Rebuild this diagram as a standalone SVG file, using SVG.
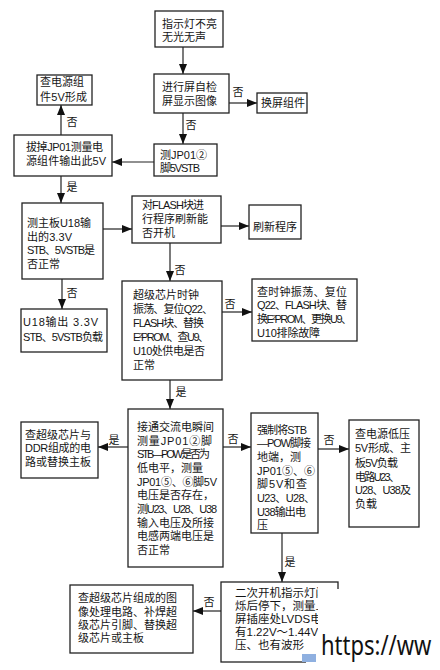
<svg xmlns="http://www.w3.org/2000/svg" width="440" height="670" viewBox="0 0 440 670">
<style>
.b{fill:#fff;stroke:#222;stroke-width:1.3}
.t{font-family:"Liberation Sans","Noto Sans CJK SC",sans-serif;font-size:11px;fill:#151515}
.l{font-family:"Liberation Sans","Noto Sans CJK SC",sans-serif;font-size:11px;fill:#151515;text-anchor:middle}
.c{fill:none;stroke:#222;stroke-width:1.2;marker-end:url(#ah)}
</style>
<defs>
<marker id="ah" viewBox="0 0 10 8" refX="10" refY="4" markerWidth="10" markerHeight="8" markerUnits="userSpaceOnUse" orient="auto">
<path d="M0,0 L10,4 L0,8 Z" fill="#111"/>
</marker>
<clipPath id="wm"><rect x="0" y="0" width="318" height="670"/></clipPath>
</defs>
<rect width="440" height="670" fill="#fff"/>
<g id="connectors">
<path class="c" d="M183,47 V74"/>
<path class="c" d="M229,103 H257"/>
<path class="c" d="M183,113 V144"/>
<path class="c" d="M154,162 H112"/>
<path class="c" d="M61,135 V105"/>
<path class="c" d="M61,176 V203"/>
<path class="c" d="M103,229 H132"/>
<path class="c" d="M221,226 H249"/>
<path class="c" d="M170,243 V281"/>
<path class="c" d="M62,279 V309"/>
<path class="c" d="M222,312 H252"/>
<path class="c" d="M170,380 V409"/>
<path class="c" d="M128,447 H98"/>
<path class="c" d="M223,447 H251"/>
<path class="c" d="M318,449 H349"/>
<path class="c" d="M282,533 V582"/>
<path class="c" d="M221,611 H193"/>
<text class="l" x="238" y="96">否</text>
<text class="l" x="191" y="129">否</text>
<text class="l" x="72" y="126">否</text>
<text class="l" x="72" y="191">是</text>
<text class="l" x="180" y="274">否</text>
<text class="l" x="72" y="297">否</text>
<text class="l" x="230" y="308">否</text>
<text class="l" x="181" y="396">是</text>
<text class="l" x="114" y="444">是</text>
<text class="l" x="233" y="443">否</text>
<text class="l" x="329" y="444">否</text>
<text class="l" x="290" y="566">是</text>
<text class="l" x="209" y="606">否</text>
</g>
<g id="n1"><rect class="b" x="155" y="11" width="68" height="36"/>
<text class="t"><tspan x="162" y="28">指示灯不亮</tspan><tspan x="162" y="41">无光无声</tspan></text></g>
<g id="n2"><rect class="b" x="154" y="74" width="75" height="39"/>
<text class="t"><tspan x="162" y="91">进行屏自检</tspan><tspan x="162" y="105">屏显示图像</tspan></text></g>
<g id="n3"><rect class="b" x="257" y="93" width="50" height="20"/>
<text class="t" x="261" y="107">换屏组件</text></g>
<g id="n4"><rect class="b" x="154" y="144" width="63" height="32"/>
<text class="t"><tspan x="160" y="159" textLength="47">测JP01②</tspan><tspan x="160" y="172" textLength="40">脚5VSTB</tspan></text></g>
<g id="n5"><rect class="b" x="14" y="135" width="98" height="41"/>
<text class="t"><tspan x="26" y="151" textLength="77">拔掉JP01测量电</tspan><tspan x="26" y="165" textLength="80">源组件输出此5V</tspan></text></g>
<g id="n6"><rect class="b" x="37" y="75" width="55" height="30"/>
<text class="t"><tspan x="40" y="86">查电源组</tspan><tspan x="40" y="101" textLength="47">件5V形成</tspan></text></g>
<g id="n7"><rect class="b" x="22" y="203" width="81" height="76"/>
<text class="t"><tspan x="27" y="227" textLength="64">测主板U18输</tspan><tspan x="27" y="241" textLength="45">出的3.3V</tspan><tspan x="27" y="254" textLength="68">STB、5VSTB是</tspan><tspan x="27" y="268">否正常</tspan></text></g>
<g id="n8"><rect class="b" x="132" y="196" width="89" height="47"/>
<text class="t"><tspan x="142" y="209" textLength="62">对FLASH块进</tspan><tspan x="142" y="223">行程序刷新能</tspan><tspan x="142" y="237">否开机</tspan></text></g>
<g id="n9"><rect class="b" x="249" y="205" width="52" height="34"/>
<text class="t" x="253" y="231">刷新程序</text></g>
<g id="n10"><rect class="b" x="122" y="281" width="100" height="99"/>
<text class="t"><tspan x="133" y="299">超级芯片时钟</tspan><tspan x="133" y="313" textLength="80">振荡、复位Q22、</tspan><tspan x="133" y="327" textLength="71">FLASH块、替换</tspan><tspan x="133" y="341" textLength="76">E²PROM、查U9、</tspan><tspan x="133" y="355" textLength="72">U10处供电是否</tspan><tspan x="133" y="369">正常</tspan></text></g>
<g id="n11"><rect class="b" x="21" y="309" width="86" height="43"/>
<text class="t"><tspan x="23" y="326" textLength="75">U18输出 3.3V</tspan><tspan x="23" y="341" textLength="80">STB、5VSTB负载</tspan></text></g>
<g id="n12"><rect class="b" x="252" y="279" width="105" height="62"/>
<text class="t"><tspan x="257" y="296" textLength="90">查时钟振荡、复位</tspan><tspan x="257" y="309" textLength="90">Q22、FLASH块、替</tspan><tspan x="257" y="323" textLength="95">换E²PROM、更换U9、</tspan><tspan x="257" y="337" textLength="63">U10排除故障</tspan></text></g>
<g id="n13"><rect class="b" x="128" y="409" width="95" height="158"/>
<text class="t"><tspan x="137" y="431">接通交流电瞬间</tspan><tspan x="137" y="445" textLength="75">测量JP01②脚</tspan><tspan x="137" y="458" textLength="73">STB—POW是否为</tspan><tspan x="137" y="472">低电平，测量</tspan><tspan x="137" y="486" textLength="80">JP01⑤、⑥脚5V</tspan><tspan x="137" y="499">电压是否存在，</tspan><tspan x="137" y="513" textLength="80">测U23、U28、U38</tspan><tspan x="137" y="527">输入电压及所接</tspan><tspan x="137" y="540">电感两端电压是</tspan><tspan x="137" y="554">否正常</tspan></text></g>
<g id="n14"><rect class="b" x="21" y="422" width="77" height="56"/>
<text class="t"><tspan x="25" y="439">查超级芯片与</tspan><tspan x="25" y="452" textLength="66">DDR组成的电</tspan><tspan x="25" y="466">路或替换主板</tspan></text></g>
<g id="n15"><rect class="b" x="251" y="413" width="67" height="120"/>
<text class="t"><tspan x="257" y="434" textLength="50">强制将STB</tspan><tspan x="257" y="447" textLength="54">—POW脚接</tspan><tspan x="257" y="461">地端，测</tspan><tspan x="257" y="475" textLength="58">JP01⑤、⑥</tspan><tspan x="257" y="488" textLength="50">脚5V和查</tspan><tspan x="257" y="502" textLength="58">U23、U28、</tspan><tspan x="257" y="516" textLength="49">U38输出电</tspan><tspan x="257" y="529">压</tspan></text></g>
<g id="n16"><rect class="b" x="349" y="420" width="70" height="107"/>
<text class="t"><tspan x="355" y="438">查电源低压</tspan><tspan x="355" y="452" textLength="56">5V形成、主</tspan><tspan x="355" y="467" textLength="43">板5V负载</tspan><tspan x="355" y="481" textLength="45">电路U23、</tspan><tspan x="355" y="494" textLength="56">U28、U38及</tspan><tspan x="355" y="508">负载</tspan></text></g>
<g id="n17"><rect class="b" x="221" y="582" width="117" height="80"/>
<text class="t" clip-path="url(#wm)" style="font-size:11.5px"><tspan x="235" y="597">二次开机指示灯闪</tspan><tspan x="235" y="610">烁后停下，测量上</tspan><tspan x="235" y="623">屏插座处LVDS电压</tspan><tspan x="235" y="636">有1.22V～1.44V电</tspan><tspan x="235" y="649">压、也有波形</tspan></text></g>
<g id="n18"><rect class="b" x="70" y="585" width="123" height="68"/>
<text class="t"><tspan x="78" y="602">查超级芯片组成的图</tspan><tspan x="78" y="616">像处理电路、补焊超</tspan><tspan x="78" y="629">级芯片引脚、替换超</tspan><tspan x="78" y="642">级芯片或主板</tspan></text></g>
<g id="watermark">
<rect x="318" y="589" width="122" height="81" fill="#fff"/>
<rect x="306" y="656" width="12" height="14" fill="#fff"/>
<rect x="302" y="654" width="14" height="8" fill="#8fb0e0"/>
<text transform="translate(321,655) scale(1,1.25)" x="0" y="0" style="font-family:'Noto Sans',sans-serif;font-size:22px;fill:#111">https://ww</text>
</g>
</svg>
